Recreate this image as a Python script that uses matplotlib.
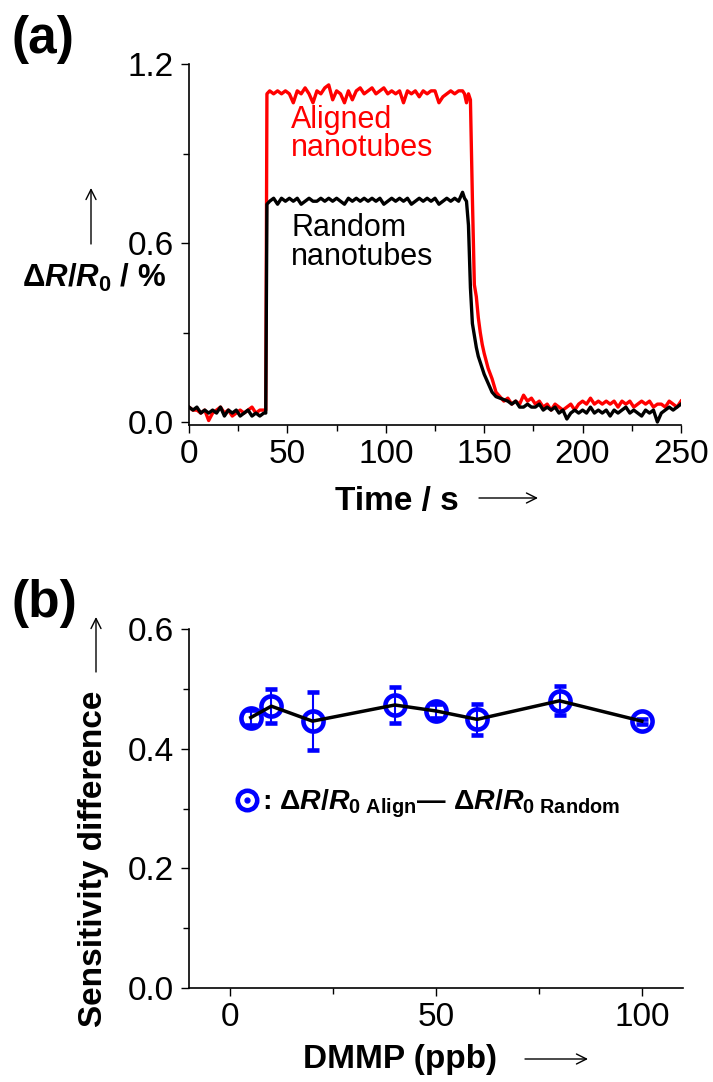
import numpy as np
import matplotlib
matplotlib.use('Agg')
import matplotlib.pyplot as plt
from matplotlib.lines import Line2D
from matplotlib.legend_handler import HandlerTuple
from matplotlib.ticker import MultipleLocator

plt.rcParams['font.family'] = ['Liberation Sans', 'DejaVu Sans']
plt.rcParams['mathtext.fontset'] = 'custom'
plt.rcParams['mathtext.rm'] = 'Liberation Sans:bold'
plt.rcParams['mathtext.bf'] = 'Liberation Sans:bold'
plt.rcParams['mathtext.it'] = 'Liberation Sans:italic:bold'

# ---- panel (a): response vs time ----
t_base = [0, 2, 4, 6, 8, 10, 12, 14, 16, 18, 20, 22, 24, 26, 28, 30, 32, 34, 36, 38, 39, 39.6]
t_on = [41, 43, 45, 47, 49, 51, 53, 55, 57, 59, 61, 63, 65, 67, 69, 71, 73, 75, 77, 79,
        81, 83, 85, 87, 89, 91, 93, 95, 97, 99, 101, 103, 105, 107, 109, 111, 113, 115, 117, 119,
        121, 123, 125, 127, 129, 131, 133, 135, 137, 139]
t_off = [140, 141, 142, 143, 144, 145, 146, 147, 148, 149, 150, 152, 154, 156, 158, 160]
t_rec = [162, 164, 166, 168, 170, 172, 174, 176, 178, 180, 182, 184, 186, 188, 190, 192,
         194, 196, 198, 200, 202, 204, 206, 208, 210, 212, 214, 216, 218, 220, 222, 224,
         226, 228, 230, 232, 234, 236, 238, 240, 242, 244, 246, 248, 250]
time = np.array(t_base + t_on + t_off + t_rec)

aligned = np.array(
    [0.05, 0.04, 0.04, 0.03, 0.04, 0.005, 0.03, 0.04, 0.05, 0.03, 0.04, 0.02, 0.03, 0.04, 0.03,
     0.04, 0.05, 0.03, 0.04, 0.04, 0.04, 1.10]
    + [1.11, 1.10, 1.11, 1.10, 1.11, 1.10, 1.07, 1.11, 1.10, 1.12, 1.10, 1.07, 1.11, 1.10, 1.12,
       1.13, 1.08, 1.11, 1.10, 1.07, 1.11, 1.08, 1.11, 1.12, 1.10, 1.11, 1.12, 1.10, 1.11, 1.12,
       1.10, 1.11, 1.10, 1.11, 1.07, 1.11, 1.10, 1.11, 1.09, 1.11, 1.10, 1.11, 1.11, 1.07, 1.09,
       1.10, 1.11, 1.10, 1.11, 1.11]
    + [1.10, 1.07, 1.10, 1.08, 0.75, 0.46, 0.42, 0.35, 0.30, 0.26, 0.23, 0.18, 0.145, 0.10, 0.085, 0.07]
    + [0.08, 0.06, 0.07, 0.06, 0.09, 0.07, 0.08, 0.06, 0.07, 0.05, 0.06, 0.04, 0.06, 0.05, 0.04,
       0.05, 0.06, 0.04, 0.06, 0.07, 0.06, 0.08, 0.06, 0.07, 0.06, 0.07, 0.06, 0.07, 0.05, 0.07,
       0.06, 0.07, 0.05, 0.06, 0.07, 0.06, 0.07, 0.05, 0.06, 0.06, 0.05, 0.07, 0.06, 0.05, 0.07])

random_ = np.array(
    [0.05, 0.04, 0.05, 0.03, 0.04, 0.03, 0.04, 0.03, 0.05, 0.02, 0.04, 0.03, 0.04, 0.02, 0.03,
     0.04, 0.02, 0.03, 0.02, 0.03, 0.03, 0.73]
    + [0.74, 0.75, 0.73, 0.75, 0.74, 0.75, 0.74, 0.75, 0.73, 0.74, 0.75, 0.74, 0.74, 0.75, 0.74,
       0.75, 0.74, 0.75, 0.74, 0.73, 0.75, 0.74, 0.75, 0.74, 0.75, 0.74, 0.75, 0.74, 0.75, 0.73,
       0.74, 0.75, 0.74, 0.75, 0.74, 0.75, 0.73, 0.74, 0.75, 0.74, 0.75, 0.74, 0.75, 0.73, 0.74,
       0.75, 0.74, 0.75, 0.74, 0.77]
    + [0.75, 0.74, 0.66, 0.45, 0.33, 0.29, 0.25, 0.22, 0.20, 0.18, 0.16, 0.13, 0.10, 0.085, 0.08, 0.075]
    + [0.07, 0.06, 0.07, 0.05, 0.05, 0.06, 0.05, 0.05, 0.06, 0.04, 0.05, 0.04, 0.05, 0.03, 0.04,
       0.01, 0.03, 0.04, 0.03, 0.04, 0.03, 0.05, 0.03, 0.04, 0.03, 0.04, 0.02, 0.04, 0.03, 0.04,
       0.05, 0.03, 0.04, 0.03, 0.02, 0.04, 0.03, 0.04, 0.00, 0.03, 0.04, 0.05, 0.04, 0.05, 0.06])

# ---- panel (b): sensitivity difference vs DMMP ----
dmmp = [5, 10, 20, 40, 50, 60, 80, 100]
sens_diff = [0.452, 0.471, 0.446, 0.473, 0.463, 0.449, 0.480, 0.446]
sens_err = [0.012, 0.028, 0.048, 0.030, 0.011, 0.026, 0.024, 0.004]

W, H = 713, 1082
fig = plt.figure(figsize=(W / 100, H / 100), dpi=100)

def fx(px):
    return px / W

def fy(py):
    return 1 - py / H

def style_axes(ax):
    for s in ['top', 'right']:
        ax.spines[s].set_visible(False)
    for s in ['left', 'bottom']:
        ax.spines[s].set_linewidth(1.2)
    ax.tick_params(which='major', direction='out', length=6, width=1.0, labelsize=24, pad=4)
    ax.tick_params(which='minor', direction='out', length=4, width=1.0)
    ax.tick_params(axis='y', which='major', pad=5)

ax1 = fig.add_axes([fx(189), fy(425), fx(492), 361 / H])
ax1.plot(time, aligned, color='red', lw=2.4)
ax1.plot(time, random_, color='black', lw=2.4)
ax1.set_xlim(0, 250)
ax1.set_ylim(-0.01, 1.2)
ax1.set_yticks([0.0, 0.6, 1.2])
ax1.set_yticklabels(['0.0', '0.6', '1.2'])
ax1.yaxis.set_minor_locator(MultipleLocator(0.3))
ax1.xaxis.set_major_locator(MultipleLocator(50))
ax1.xaxis.set_minor_locator(MultipleLocator(25))
style_axes(ax1)
ax1.text(52, 1.063, 'Aligned\nnanotubes', color='red', fontsize=22, linespacing=0.93,
         ha='left', va='top')
ax1.text(52, 0.70, 'Random\nnanotubes', color='black', fontsize=22, linespacing=0.93,
         ha='left', va='top')

ax2 = fig.add_axes([fx(189), fy(988), fx(494), 359 / H])
ax2.errorbar(dmmp, sens_diff, yerr=sens_err, fmt='o', mfc='none', mec='blue', ms=14.5, mew=3.3,
             ecolor='blue', elinewidth=1.5, capsize=4, capthick=1.5, zorder=2)
ax2.plot(dmmp, sens_diff, color='black', lw=2.5, zorder=3)
ax2.set_xlim(-10, 110)
ax2.set_ylim(0, 0.6)
ax2.set_yticks([0.0, 0.2, 0.4, 0.6])
ax2.set_yticklabels(['0.0', '0.2', '0.4', '0.6'])
ax2.yaxis.set_minor_locator(MultipleLocator(0.1))
ax2.xaxis.set_major_locator(MultipleLocator(50))
ax2.xaxis.set_minor_locator(MultipleLocator(25))
style_axes(ax2)

legend_label = (r': $\Delta R/R_{0\ \mathrm{Align}}$' + '\u2014'
                + r' $\Delta R/R_{0\ \mathrm{Random}}$')
ring = Line2D([], [], ls='none', marker='o', mfc='none', mec='blue', ms=14, mew=3.3)
dot = Line2D([], [], ls='none', marker='o', color='blue', ms=3.5)
ax2.legend([(ring, dot)], [legend_label],
           handler_map={tuple: HandlerTuple(ndivide=1, pad=0)},
           loc='center left', bbox_to_anchor=(fx(235), fy(804)), bbox_transform=fig.transFigure,
           frameon=False, borderpad=0, borderaxespad=0, handlelength=0.85, handletextpad=0.1,
           prop={'weight': 'bold', 'size': 20.5})

# labels and arrows
fig.text(fx(12), fy(53), '(a)', fontsize=37, fontweight='bold', ha='left', va='baseline')
fig.text(fx(12), fy(617), '(b)', fontsize=37, fontweight='bold', ha='left', va='baseline')

fig.text(fx(22), fy(287), r'$\Delta R/R_0$ / %', fontsize=22.5, fontweight='bold',
         ha='left', va='baseline')
fig.text(fx(335), fy(510), 'Time / s', fontsize=24, fontweight='bold', ha='left', va='baseline')
fig.text(fx(94), fy(859), 'Sensitivity difference', fontsize=24, fontweight='bold',
         rotation=90, ha='center', va='center')
fig.text(fx(303), fy(1068), 'DMMP (ppb)', fontsize=24, fontweight='bold', ha='left', va='baseline')

arrow = dict(arrowstyle='->', lw=1.0, color='black', mutation_scale=18, shrinkA=0, shrinkB=0)
fig.add_artist(matplotlib.patches.FancyArrowPatch((fx(91), fy(244)), (fx(91), fy(188)),
               transform=fig.transFigure, **arrow))
fig.add_artist(matplotlib.patches.FancyArrowPatch((fx(479), fy(498)), (fx(538), fy(498)),
               transform=fig.transFigure, **arrow))
fig.add_artist(matplotlib.patches.FancyArrowPatch((fx(96), fy(672)), (fx(96), fy(617)),
               transform=fig.transFigure, **arrow))
fig.add_artist(matplotlib.patches.FancyArrowPatch((fx(525), fy(1059)), (fx(588), fy(1059)),
               transform=fig.transFigure, **arrow))

fig.savefig('out.png', dpi=100)
